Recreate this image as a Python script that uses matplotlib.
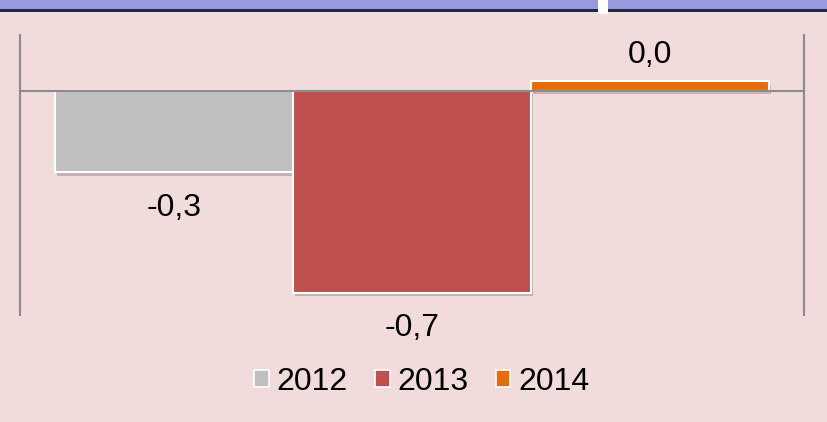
import matplotlib
matplotlib.use("Agg")
import matplotlib.pyplot as plt
from matplotlib.patches import Rectangle, Patch
import matplotlib.patheffects as pe

plt.rcParams['font.family'] = ['Liberation Sans', 'DejaVu Sans']

# Data
series = ["2012", "2013", "2014"]
values = [-0.29, -0.72, 0.034]
labels = ["-0,3", "-0,7", "0,0"]
colors = ["#BFBFBF", "#C0504D", "#E46C0A"]

W, H = 827, 422
fig = plt.figure(figsize=(W / 100, H / 100), dpi=100)
bg = "#F2DCDB"
fig.patch.set_facecolor(bg)

# top decorative band
fig.patches.append(Rectangle((0, 1 - 9 / H), 1, 9 / H, transform=fig.transFigure,
                             facecolor="#9999DD", edgecolor="none", zorder=0))
fig.patches.append(Rectangle((0, 1 - 12 / H), 1, 3 / H, transform=fig.transFigure,
                             facecolor="#1C2A4E", edgecolor="none", zorder=0))
fig.patches.append(Rectangle((598 / W, 1 - 14 / H), 10 / W, 14 / H, transform=fig.transFigure,
                             facecolor="white", edgecolor="none", zorder=1))

ax = fig.add_axes([20 / W, 1 - 315 / H, 784 / W, 280 / H])
ax.set_facecolor(bg)
ax.set_xlim(-0.5, 0.5)
ax.set_ylim(-0.8, 0.2)

bw = 238 / 784
shadow = [pe.SimplePatchShadow(offset=(1.2, -2.5), shadow_rgbFace="#7A6464", alpha=0.35), pe.Normal()]
for i, (s, v, lab, c) in enumerate(zip(series, values, labels, colors)):
    x = (i - 1) * bw
    b = ax.bar(x, v, width=bw, color=c, edgecolor="white", linewidth=1.5, zorder=3)
    for p in b:
        p.set_path_effects(shadow)
    if v < 0:
        ax.annotate(lab, (x, v), xytext=(0, -15), textcoords="offset points",
                    ha="center", va="top", fontsize=23, color="black")
    else:
        ax.annotate(lab, (x, v), xytext=(0, 13.5), textcoords="offset points",
                    ha="center", va="baseline", fontsize=23, color="black")

ax.axhline(0, color="#8C8C8C", linewidth=1.5, zorder=4)
for side in ["top", "bottom"]:
    ax.spines[side].set_visible(False)
for side in ["left", "right"]:
    ax.spines[side].set_color("#8C8C8C")
    ax.spines[side].set_linewidth(1.5)
ax.set_xticks([])
ax.set_yticks([])

handles = [Patch(facecolor=c, edgecolor="white", linewidth=1.2) for c in colors]
fig.legend(handles, series, loc="center", bbox_to_anchor=(422 / W, 1 - 382 / H),
           ncol=3, frameon=False, fontsize=23, handlelength=0.45, handleheight=0.45,
           handletextpad=0.25, columnspacing=0.85)

fig.savefig("out.png", dpi=100, facecolor=bg)
